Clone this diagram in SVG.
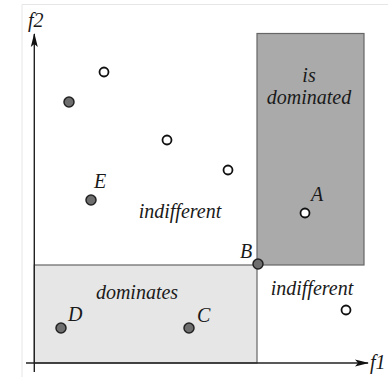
<svg xmlns="http://www.w3.org/2000/svg" width="388" height="377" viewBox="0 0 388 377">
<style>
text{font-family:'Liberation Serif','Times New Roman','DejaVu Serif',serif;font-style:italic;font-size:20px;fill:#1a1a1a}
.w{fill:#fff;stroke:#111;stroke-width:1.8}
.g{fill:#6e6e6e;stroke:#222;stroke-width:1.5}
.ax{stroke:#222;stroke-width:1.4;fill:none}
</style>
<defs>
<marker id="arr" viewBox="0 0 14 8" refX="13" refY="4" markerWidth="14" markerHeight="8" markerUnits="userSpaceOnUse" orient="auto">
<path d="M0,0.5 L14,4 L0,7.5 L3,4 Z" fill="#111"/>
</marker>
</defs>
<path d="M22,377 V4.5 H388" fill="none" stroke="#e6e6e6" stroke-width="1"/>
<g id="region-dominated">
<rect x="257" y="33.5" width="107" height="231.5" fill="#aaaaaa" stroke="#666" stroke-width="1.2"/>
<text x="309" y="82" text-anchor="middle">is</text>
<text x="309" y="104" text-anchor="middle">dominated</text>
</g>
<g id="region-dominates">
<rect x="34.3" y="265" width="222.7" height="98" fill="#e6e6e6" stroke="#666" stroke-width="1.2"/>
<text x="137" y="299" text-anchor="middle">dominates</text>
</g>
<g id="connectors">
<line class="ax" x1="34.3" y1="372" x2="34.3" y2="34" marker-end="url(#arr)"/>
<line class="ax" x1="26" y1="363" x2="368" y2="363" marker-end="url(#arr)"/>
</g>
<g id="axis-labels">
<text x="28" y="27">f2</text>
<text x="370" y="369">f1</text>
</g>
<g id="labels">
<text x="180" y="218" text-anchor="middle">indifferent</text>
<text x="312" y="295" text-anchor="middle">indifferent</text>
</g>
<g id="p1"><circle class="w" cx="104" cy="72" r="4.5"/></g>
<g id="p2"><circle class="g" cx="69" cy="102" r="5"/></g>
<g id="p3"><circle class="w" cx="167" cy="140" r="4.5"/></g>
<g id="p4"><circle class="w" cx="228" cy="170" r="4.5"/></g>
<g id="E"><circle class="g" cx="91" cy="200" r="5"/><text x="94" y="188">E</text></g>
<g id="A"><circle class="w" cx="305" cy="213" r="4.5"/><text x="311" y="201">A</text></g>
<g id="B"><circle class="g" cx="258" cy="264" r="5"/><text x="240" y="258">B</text></g>
<g id="p5"><circle class="w" cx="346" cy="310" r="4.5"/></g>
<g id="D"><circle class="g" cx="61" cy="328" r="5"/><text x="68" y="321">D</text></g>
<g id="C"><circle class="g" cx="189" cy="328" r="5"/><text x="197" y="322">C</text></g>
</svg>
